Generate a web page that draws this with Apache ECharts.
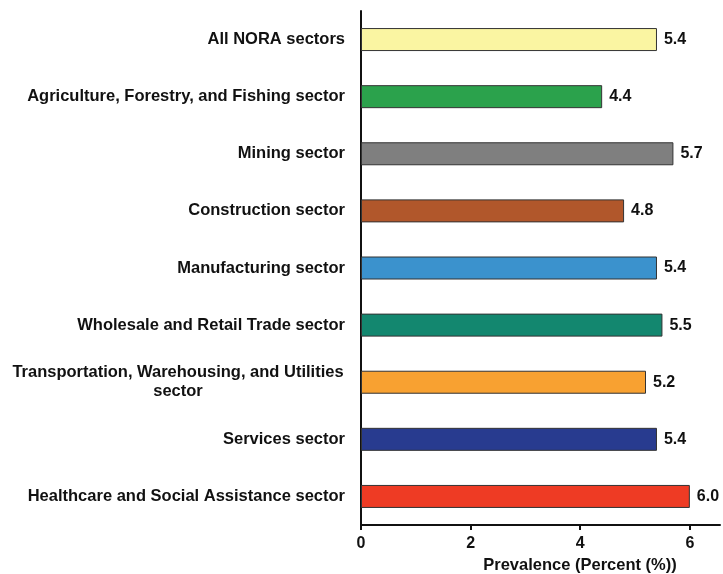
<!DOCTYPE html>
<html><head><meta charset="utf-8">
<script src="https://cdn.jsdelivr.net/npm/echarts@6/dist/echarts.min.js"></script>
<style>html,body{margin:0;padding:0;background:#fff}#c{width:723px;height:574px}</style>
</head><body><div id="c"></div>
<script>
const categories = [
  "All NORA sectors",
  "Agriculture, Forestry, and Fishing sector",
  "Mining sector",
  "Construction sector",
  "Manufacturing sector",
  "Wholesale and Retail Trade sector",
  "Transportation, Warehousing, and Utilities\nsector",
  "Services sector",
  "Healthcare and Social Assistance sector"
];
const values = [5.4, 4.4, 5.7, 4.8, 5.4, 5.5, 5.2, 5.4, 6.0];
const barColors = ["#FAF5A2", "#2BA24C", "#7F7F7F", "#B1572B", "#3B92CD", "#13876F", "#F8A131", "#283B8F", "#EE3B24"];
const xTicks = [0, 2, 4, 6];

const FONT = 'Liberation Sans';
const chart = echarts.init(document.getElementById('c'));
chart.setOption({
  animation: false,
  grid: {left: 361, right: 3, top: 11, bottom: 49, containLabel: false, outerBoundsMode: 'none'},
  xAxis: {
    type: 'value', min: 0, max: 6.55, interval: 2,
    axisLine: {show: true, lineStyle: {color: '#111', width: 2}},
    axisTick: {show: true, length: 5, lineStyle: {color: '#111', width: 2}},
    splitLine: {show: false},
    axisLabel: {showMaxLabel: false, color: '#111', fontFamily: FONT, fontWeight: 'bold', fontSize: 16, margin: 11,
      formatter: v => xTicks.includes(v) ? String(v) : ''},
    name: 'Prevalence (Percent (%))', nameLocation: 'middle', nameGap: 31,
    nameTextStyle: {color: '#111', fontFamily: FONT, fontWeight: 'bold', fontSize: 16.5, padding: [0, 0, 0, 79]}
  },
  yAxis: {
    type: 'category', data: categories, inverse: true,
    axisLine: {show: true, lineStyle: {color: '#111', width: 2}},
    axisTick: {show: false},
    axisLabel: {color: '#111', fontFamily: FONT, fontWeight: 'bold', fontSize: 16.5, margin: 16,
      formatter: v => v.includes('\n') ? '{c|' + v + '}' : v,
      rich: {c: {width: 334, align: 'center', fontFamily: FONT, fontWeight: 'bold', fontSize: 16.5, color: '#111', lineHeight: 19}}
    }
  },
  series: [{
    type: 'bar', barWidth: 23,
    data: values.map((v, i) => ({value: v, itemStyle: {color: barColors[i]}})),
    itemStyle: {borderColor: '#333', borderWidth: 1},
    label: {show: true, position: 'right', distance: 7, color: '#111', fontFamily: FONT, fontWeight: 'bold', fontSize: 16,
      formatter: p => p.value.toFixed(1)}
  }]
});
</script></body></html>
